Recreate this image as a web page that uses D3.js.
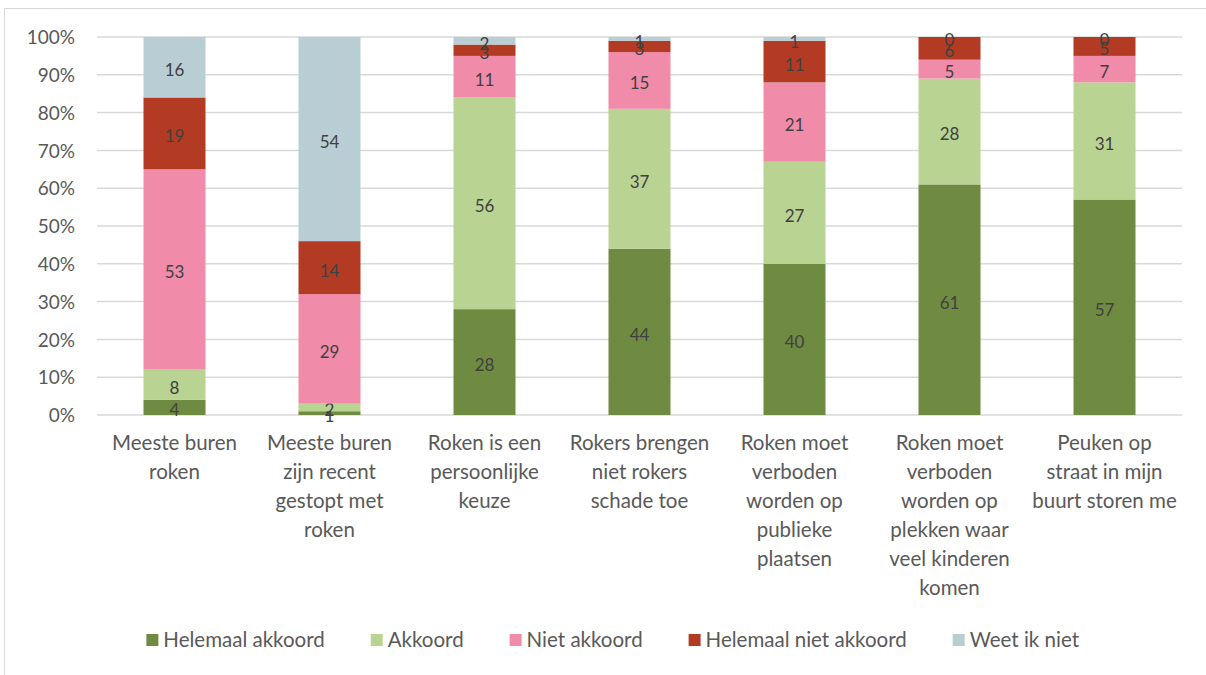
<!DOCTYPE html>
<html>
<head>
<meta charset="utf-8">
<script src="https://cdn.jsdelivr.net/npm/d3@7"></script>
<style>
  body { margin: 0; background: #fff; }
  svg { font-family: Lato, "Open Sans", sans-serif; display: block; }
</style>
</head>
<body>
<svg id="chart" width="1206" height="675"></svg>
<script>
// Data
var categories = [
  ['Meeste buren', 'roken'],
  ['Meeste buren', 'zijn recent', 'gestopt met', 'roken'],
  ['Roken is een', 'persoonlijke', 'keuze'],
  ['Rokers brengen', 'niet rokers', 'schade toe'],
  ['Roken moet', 'verboden', 'worden op', 'publieke', 'plaatsen'],
  ['Roken moet', 'verboden', 'worden op', 'plekken waar', 'veel kinderen', 'komen'],
  ['Peuken op', 'straat in mijn', 'buurt storen me']
]
var seriesNames = ['Helemaal akkoord', 'Akkoord', 'Niet akkoord', 'Helemaal niet akkoord', 'Weet ik niet']
var helemaalAkkoord = [4, 1, 28, 44, 40, 61, 57]
var akkoord = [8, 2, 56, 37, 27, 28, 31]
var nietAkkoord = [53, 29, 11, 15, 21, 5, 7]
var helemaalNiet = [19, 14, 3, 3, 11, 6, 5]
var weetNiet = [16, 54, 2, 1, 1, 0, 0]
var yTicks = [0, 10, 20, 30, 40, 50, 60, 70, 80, 90, 100]
var colors = ['#6f8a41', '#b9d393', '#f08ba9', '#b33b24', '#b9cdd4']

var series = [helemaalAkkoord, akkoord, nietAkkoord, helemaalNiet, weetNiet]

var svg = d3.select('#chart')

// frame
svg.append('path')
  .attr('d', 'M4.5,680 V8.5 H1210')
  .attr('fill', 'none')
  .attr('stroke', '#d9d9d9')
  .attr('stroke-width', 1)

var x = d3.scaleBand()
  .domain(d3.range(categories.length))
  .range([97, 1182])
  .paddingInner(0.6)
  .paddingOuter(0.3)

var y = d3.scaleLinear().domain([0, 100]).range([415, 37])

// gridlines
svg.append('g')
  .selectAll('line')
  .data(yTicks)
  .enter()
  .append('line')
  .attr('x1', 97)
  .attr('x2', 1182)
  .attr('y1', d => y(d))
  .attr('y2', d => y(d))
  .attr('stroke', '#d9d9d9')
  .attr('stroke-width', 1.5)

// y labels
svg.append('g')
  .selectAll('text')
  .data(yTicks)
  .enter()
  .append('text')
  .attr('x', 75)
  .attr('y', d => y(d))
  .attr('dy', '0.38em')
  .attr('text-anchor', 'end')
  .attr('fill', '#595959')
  .attr('font-size', 19)
  .text(d => d + '%')

// stack
var rows = categories.map((c, i) => {
  var r = { i: i }
  seriesNames.forEach((s, j) => { r[s] = series[j][i] })
  return r
})
var stacked = d3.stack().keys(seriesNames)(rows)

var layers = svg.append('g')
  .selectAll('g')
  .data(stacked)
  .enter()
  .append('g')
  .attr('fill', (d, j) => colors[j])

layers.selectAll('rect')
  .data(d => d)
  .enter()
  .append('rect')
  .attr('x', d => x(d.data.i))
  .attr('width', x.bandwidth())
  .attr('y', d => y(d[1]))
  .attr('height', d => y(d[0]) - y(d[1]))

// value labels
layers.selectAll('text')
  .data(d => d.map(v => ({ v: v, key: d.key })))
  .enter()
  .append('text')
  .attr('x', d => x(d.v.data.i) + x.bandwidth() / 2)
  .attr('y', d => y((d.v[0] + d.v[1]) / 2) + 3)
  .attr('dy', '0.35em')
  .attr('text-anchor', 'middle')
  .attr('fill', '#404040')
  .attr('font-size', 17)
  .text(d => d.v.data[d.key])

// category labels
var cat = svg.append('g')
  .selectAll('text')
  .data(categories)
  .enter()
  .append('text')
  .attr('text-anchor', 'middle')
  .attr('fill', '#595959')
  .attr('font-size', 20.5)
  .attr('x', (d, i) => x(i) + x.bandwidth() / 2)
  .attr('y', 450)

cat.selectAll('tspan')
  .data(d => d)
  .enter()
  .append('tspan')
  .attr('x', function () { return d3.select(this.parentNode).attr('x') })
  .attr('dy', (d, k) => k === 0 ? 0 : 29)
  .text(d => d)

// legend
var legend = svg.append('g')
var items = legend.selectAll('g')
  .data(seriesNames)
  .enter()
  .append('g')
items.append('rect')
  .attr('width', 12)
  .attr('height', 12)
  .attr('y', -6)
  .attr('fill', (d, j) => colors[j])
items.append('text')
  .attr('x', 17)
  .attr('dy', '0.35em')
  .attr('fill', '#595959')
  .attr('font-size', 20.5)
  .text(d => d)

var pos = 0
var gap = 46
items.each(function () {
  var w = this.getBBox().width
  d3.select(this).attr('transform', 'translate(' + pos + ',640)')
  pos += w + gap
})
var total = pos - gap
legend.attr('transform', 'translate(' + (613 - total / 2) + ',0)')
</script>
</body>
</html>
